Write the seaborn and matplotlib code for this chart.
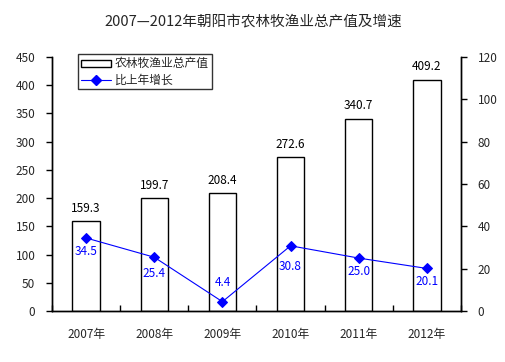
import numpy as np
import pandas as pd
import matplotlib
matplotlib.use("Agg")
import matplotlib.pyplot as plt
import seaborn as sns
from matplotlib.lines import Line2D
from matplotlib.patches import Patch

years = ["2007年", "2008年", "2009年", "2010年", "2011年", "2012年"]
output_value = [159.3, 199.7, 208.4, 272.6, 340.7, 409.2]
growth = [34.5, 25.4, 4.4, 30.8, 25.0, 20.1]
growth_label_offset = [-9.4, -11.5, 13.7, -15, -10, -9.4]

sns.set_theme(style="white")
plt.rcParams['font.family'] = ['Noto Sans CJK SC', 'DejaVu Sans']
plt.rcParams['axes.unicode_minus'] = False

fig = plt.figure(figsize=(5.06, 3.62), dpi=100)
ax = fig.add_axes([0.1028, 0.1409, 0.8082, 0.7016])

df = pd.DataFrame({"year": years, "value": output_value, "growth": growth})
sns.barplot(data=df, x="year", y="value", ax=ax, color="white",
            edgecolor="black", linewidth=1.0, width=0.4, saturation=1)
ax.set_ylim(0, 450)
ax.set_yticks(np.arange(0, 451, 50))
ax.set_xlim(-0.5, 5.5)
ax.set_xlabel("")
ax.set_ylabel("")
for i, v in enumerate(output_value):
    ax.annotate(f"{v:.1f}", (i, v), xytext=(0, 9.4), textcoords="offset points",
                ha="center", va="center", fontsize=8.5, color="black")

ax2 = ax.twinx()
sns.lineplot(x=np.arange(len(years)), y=growth, ax=ax2, color="#0000FF",
             marker="D", markersize=5, linewidth=0.8, markeredgecolor="#0000FF")
ax2.set_ylim(0, 120)
ax2.set_yticks(np.arange(0, 121, 20))
ax2.set_xlim(-0.5, 5.5)
for i, v in enumerate(growth):
    ax2.annotate(f"{v:.1f}", (i, v), xytext=(0, growth_label_offset[i]), textcoords="offset points",
                 ha="center", va="center", fontsize=8.5, color="#0000FF")

for a in (ax, ax2):
    for s in a.spines.values():
        s.set_color("black")
        s.set_linewidth(1.0)
    a.spines["top"].set_visible(False)
    a.grid(False)

ax.tick_params(axis="y", direction="out", length=4, width=1, color="black", labelsize=8.5, pad=8, left=True)
ax2.tick_params(axis="y", direction="out", length=4, width=1, color="black", labelsize=8.5, pad=8, right=True)
ax.set_xticks(np.arange(len(years)))
ax.set_xticklabels(years)
ax.tick_params(axis="x", length=0, labelsize=8.5, pad=12)
ax.set_xticks(np.arange(-0.5, 5.6, 1), minor=True)
ax.tick_params(axis="x", which="minor", direction="in", length=4, width=1, color="black", bottom=True)

fig.text(0.5, 0.94, "2007—2012年朝阳市农林牧渔业总产值及增速", ha="center", va="center", fontsize=10.5)

handles = [Patch(facecolor="white", edgecolor="black", linewidth=1.0),
           Line2D([0], [0], color="#0000FF", marker="D", markersize=5, linewidth=0.8)]
leg = ax.legend(handles, ["农林牧渔业总产值", "比上年增长"], loc="upper left",
                bbox_to_anchor=(0.063, 1.01), fontsize=8.5, frameon=True, fancybox=False,
                handlelength=2.6, handleheight=0.5, borderpad=0.25, labelspacing=0.25,
                handletextpad=0.3, borderaxespad=0)
leg.get_frame().set_edgecolor("black")
leg.get_frame().set_linewidth(1.0)

fig.savefig("out.png", dpi=100)
